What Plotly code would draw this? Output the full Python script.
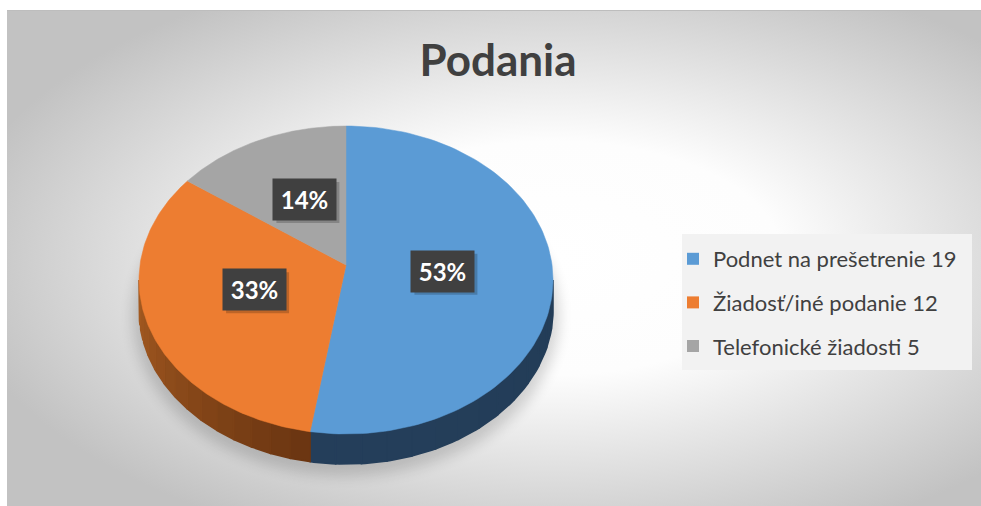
import base64
import numpy as np
import plotly.graph_objects as go

# ---------------- data ----------------
title_text = "Podania"
categories = ["Podnet na prešetrenie", "Žiadosť/iné podanie", "Telefonické žiadosti"]
values = [19, 12, 5]

# ---------------- style ----------------
top_colors = ["#5b9bd5", "#ed7d31", "#a5a5a5"]
side_dark = ["#233d58", "#6a3512", "#6b6b6b"]
side_light = ["#253f5b", "#a55b21", "#8a8a8a"]
OFF = 0                      # page body margin (removed below)
PW, PH = 981, 506            # page size
W, H = PW - OFF, PH - OFF    # figure size
cx, cy = 346, 280            # ellipse centre (page pixels)
rx, ry = 207, 154            # ellipse radii
vx, vy = 346, 265            # apex of slices (perspective)
depth = 30
FONT = "Lato"
TXT = "#404040"


def px(p):   # page x -> paper
    return (p - OFF) / W


def py(p):   # page y -> paper
    return 1 - (p - OFF) / H


def pt(theta_deg, dy=0.0):
    t = np.radians(theta_deg)
    return cx + rx * np.sin(t), cy - ry * np.cos(t) + dy


total = float(sum(values))
fr = [v / total for v in values]
bounds = np.concatenate([[0.0], np.cumsum(fr)]) * 360.0

fig = go.Figure()

# ---- sides (visible front half: 90..270 deg clockwise from 12 o'clock) ----
for i in range(len(values)):
    a = max(bounds[i], 90.0)
    b = min(bounds[i + 1], 270.0)
    if b <= a:
        continue
    nseg = 14
    edges = np.linspace(a, b, nseg + 1)
    c0 = np.array([int(side_dark[i][k:k + 2], 16) for k in (1, 3, 5)])
    c1 = np.array([int(side_light[i][k:k + 2], 16) for k in (1, 3, 5)])
    for s in range(nseg):
        th = np.linspace(edges[s], edges[s + 1], 8)
        xs_t, ys_t = pt(th)
        xs_b, ys_b = pt(th[::-1], depth)
        f = (0.5 * (edges[s] + edges[s + 1]) - a) / (b - a)
        c = (c0 + (c1 - c0) * f).astype(int)
        col = "rgb(%d,%d,%d)" % tuple(c)
        fig.add_trace(go.Scatter(
            x=np.concatenate([xs_t, xs_b, xs_t[:1]]),
            y=np.concatenate([ys_t, ys_b, ys_t[:1]]),
            mode="lines", fill="toself", fillcolor=col,
            line=dict(color=col, width=1.6),
            hoverinfo="skip", showlegend=False))

# ---- top faces ----
for i in range(len(values)):
    th = np.linspace(bounds[i], bounds[i + 1], 120)
    xs, ys = pt(th)
    fig.add_trace(go.Scatter(
        x=np.concatenate([[vx], xs, [vx]]),
        y=np.concatenate([[vy], ys, [vy]]),
        mode="lines", fill="toself", fillcolor=top_colors[i],
        line=dict(color=top_colors[i], width=0.5),
        name=categories[i], hoverinfo="skip", showlegend=False))

# ---- legend entries ----
for i in range(len(values)):
    fig.add_trace(go.Scatter(
        x=[None], y=[None], mode="markers",
        marker=dict(symbol="square", size=12, color=top_colors[i]),
        name=f"{categories[i]} {values[i]}", legendgroup=str(i),
        showlegend=True))

# ---- data labels ----
annotations = []
shapes = []
k = 0.47
for i in range(len(values)):
    mid = np.radians(0.5 * (bounds[i] + bounds[i + 1]))
    lx = vx + k * rx * np.sin(mid)
    ly = vy - k * ry * np.cos(mid)
    bw, bh = 63, 41
    shapes.append(dict(type="rect", xref="x", yref="y", layer="above",
                       x0=lx - bw / 2 + 3, x1=lx + bw / 2 + 3,
                       y0=ly - bh / 2 + 3, y1=ly + bh / 2 + 3,
                       fillcolor="rgba(0,0,0,0.2)", line=dict(width=0)))
    annotations.append(dict(
        x=lx, y=ly, xref="x", yref="y", showarrow=False,
        text=f"<b>{round(fr[i] * 100)}%</b>",
        font=dict(family=FONT, size=24, color="white"),
        bgcolor="#404040", width=bw - 2, height=bh - 2, borderpad=1,
        align="center", valign="middle"))

# legend box
shapes.append(dict(type="rect", xref="x", yref="y", layer="below",
                   x0=682, x1=972, y0=234, y1=370,
                   fillcolor="#f2f2f2", line=dict(width=0)))

# ---- background (radial gradient + soft shadow) ----
bx, by = 7, 10
bw_, bh_ = PW - bx, PH - by
svg = f'''<svg xmlns="http://www.w3.org/2000/svg" width="{bw_}" height="{bh_}" viewBox="0 0 {bw_} {bh_}">
<defs>
<radialGradient id="g" cx="0.56" cy="0.5" r="0.62">
<stop offset="0" stop-color="#ffffff"/>
<stop offset="0.38" stop-color="#fdfdfd"/>
<stop offset="1" stop-color="#c2c2c2"/>
</radialGradient>
<filter id="b" x="-20%" y="-20%" width="140%" height="140%"><feGaussianBlur stdDeviation="7"/></filter>
</defs>
<rect x="0" y="0" width="{bw_}" height="{bh_}" fill="url(#g)"/>
<line x1="0" y1="0.5" x2="{bw_}" y2="0.5" stroke="#bdbdbd" stroke-width="1"/>
<ellipse cx="{cx - bx}" cy="{cy + depth - by + 6}" rx="{rx + 6}" ry="{ry + 6}" fill="#000" opacity="0.16" filter="url(#b)"/>
</svg>'''
src = "data:image/svg+xml;base64," + base64.b64encode(svg.encode()).decode()

fig.update_layout(
    width=W, height=H, autosize=False,
    margin=dict(l=0, r=0, t=0, b=0),
    paper_bgcolor="white", plot_bgcolor="rgba(0,0,0,0)",
    xaxis=dict(range=[OFF, PW], visible=False, fixedrange=True),
    yaxis=dict(range=[PH, OFF], visible=False, fixedrange=True),
    title=dict(text=f"<b>{title_text}</b>", x=px(498), xanchor="center",
               y=py(61), yanchor="middle",
               font=dict(family=FONT, size=44, color=TXT)),
    legend=dict(x=px(713 - 40), y=py(238), xanchor="left", yanchor="top",
                bgcolor="rgba(0,0,0,0)", font=dict(family=FONT, size=22, color=TXT),
                traceorder="grouped", tracegroupgap=12),
    showlegend=True,
    annotations=annotations,
    shapes=shapes,
    images=[dict(source=src, xref="paper", yref="paper",
                 x=px(bx), y=py(by), sizex=bw_ / W, sizey=bh_ / H,
                 xanchor="left", yanchor="top", sizing="stretch", layer="below")],
)

# remove the default page margin so the figure fills the window exactly
fig.write_html(
    "out.html",
    config={"displayModeBar": False},
    post_script=("document.body.style.margin='0';"
                 "document.documentElement.style.overflow='hidden';"
                 "Plotly.relayout(document.getElementById('{plot_id}'),"
                 "{width: %d, height: %d});" % (W, H)),
)
